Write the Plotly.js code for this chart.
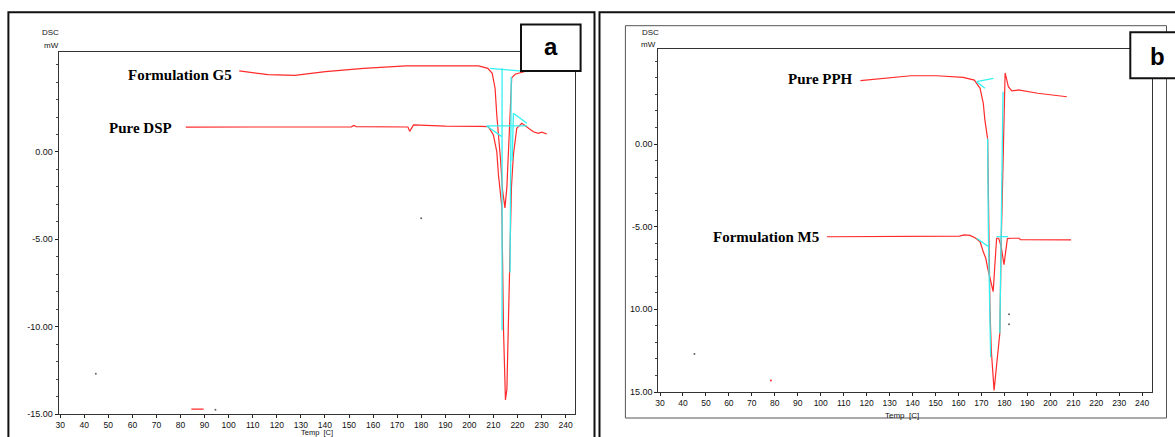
<!DOCTYPE html>
<html><head><meta charset="utf-8">
<script src="https://cdn.plot.ly/plotly-3.0.1.min.js"></script>
<style>html,body{margin:0;padding:0;background:#fff;}#chart{width:1175px;height:437px;}</style>
</head><body><div id="chart"></div>
<script>
// ---------- Panel a : Formulation G5 / Pure DSP ----------
const g5Temp = [104.4, 116.3, 127.5, 140.2, 156.1, 173.6, 203.8, 207.7, 209.5, 210.7, 211.4, 212.2, 213.0, 213.8, 214.8, 215.6, 216.3, 216.9, 217.6, 219.0, 221.8, 225.1, 226.1];
const g5Heat = [4.64, 4.43, 4.39, 4.60, 4.79, 4.93, 4.93, 4.79, 4.50, 3.65, 2.12, 0.90, -0.50, -2.20, -3.20, -2.00, 0.50, 2.60, 4.24, 4.45, 4.55, 4.70, 4.72];
const dspTemp = [82.2, 110.0, 140.0, 151.0, 152.0, 153.0, 174.5, 175.2, 176.8, 190.0, 204.5, 207.9, 210.0, 211.4, 212.1, 212.8, 213.5, 214.2, 215.0, 215.6, 216.4, 216.9, 217.5, 218.3, 219.7, 221.8, 223.9, 226.6, 228.7, 230.1, 232.2];
const dspHeat = [1.42, 1.42, 1.44, 1.44, 1.52, 1.45, 1.43, 1.18, 1.55, 1.48, 1.46, 1.45, 0.97, 0.02, -1.32, -2.46, -3.13, -10.2, -14.2, -13.6, -9.0, -5.0, -2.0, -0.17, 1.36, 1.64, 1.45, 1.16, 1.07, 1.13, 1.03];
const aCyanTemp = [208.6, 224.0, null, 213.6, 213.6, null, 217.4, 216.9, null, 207.2, 223.9, null, 218.3, 223.9, null, 218.3, 217.8, null, 207.2, 213.5];
const aCyanHeat = [4.79, 4.60, null, 4.79, -10.2, null, 4.30, -6.9, null, 1.49, 1.49, null, 2.22, 1.64, null, 2.22, -0.5, null, 1.49, 0.88];
const aDotTemp = [44.8, 180.0, 94.5];
const aDotHeat = [-12.7, -3.8, -14.75];
const aDashTemp = [84.5, 89.6];
const aDashHeat = [-14.72, -14.72];
const aYTickVals = [-15, -10, -5, 0];
const aYTickText = ["-15.00", "-10.00", "-5.00", "0.00"];

// ---------- Panel b : Pure PPH / Formulation M5 ----------
const pphTemp = [117.3, 129.5, 139.3, 150.6, 162.0, 166.9, 169.4, 170.8, 171.5, 172.7, 173.2, 173.7, 174.3, 175.5, 176.5, 177.2, 178.0, 178.6, 179.4, 180.0, 180.3, 181.0, 181.7, 183.2, 186.1, 194.5, 207.2];
const pphHeat = [3.83, 4.01, 4.13, 4.13, 4.03, 3.87, 3.37, 2.46, 1.45, 0.30, -5.0, -10.0, -12.5, -14.9, -13.5, -12.6, -11.45, -6.0, -0.5, 3.0, 4.3, 3.9, 3.47, 3.22, 3.27, 3.07, 2.86];
const m5Temp = [102.7, 130.0, 160.4, 162.5, 165.0, 167.2, 169.4, 170.8, 171.9, 172.7, 173.8, 175.1, 175.9, 176.6, 177.5, 178.6, 179.8, 180.7, 181.3, 183.0, 186.4, 187.0, 200.0, 209.0];
const m5Heat = [-5.61, -5.61, -5.57, -5.50, -5.53, -5.67, -5.91, -6.52, -6.92, -7.50, -8.20, -8.93, -7.20, -5.70, -5.70, -6.20, -7.30, -6.50, -5.72, -5.70, -5.70, -5.78, -5.78, -5.80];
const bCyanTemp = [167.9, 175.2, null, 167.9, 171.5, null, 172.7, 173.0, 174.0, null, 179.4, 178.0, null, 176.6, 181.6, null, 167.9, 173.0];
const bCyanHeat = [3.77, 3.97, null, 3.77, 3.37, null, 0.34, -5.2, -12.9, null, 3.16, -11.45, null, -5.6, -5.6, null, -5.7, -6.2];
const bDotTemp = [45.0, 182.0, 182.0];
const bDotHeat = [-12.7, -10.3, -10.9];
const bRedDotTemp = [78.3];
const bRedDotHeat = [-14.3];
const bYTickVals = [-15, -10, -5, 0];
const bYTickText = ["15.00", "10.00", "-5.00", "0.00"];

// ---------- shared ----------
const xTickVals = [30, 40, 50, 60, 70, 80, 90, 100, 110, 120, 130, 140, 150, 160, 170, 180, 190, 200, 210, 220, 230, 240];
const xTitle = "Temp  [C]";
const yUnit = "DSC";
const yUnit2 = "mW";
const labelsA = ["Formulation G5", "Pure DSP"];
const labelsB = ["Pure PPH", "Formulation M5"];

const W = 1175, H = 437;
const px = x => x / W;
const py = y => 1 - y / H;

const RED = '#ff2a2a', CYAN = '#33f0f0';
function line(x, y, xa, ya, color, w) {
  return {x: x, y: y, xaxis: xa, yaxis: ya, type: 'scatter', mode: 'lines',
          line: {color: color, width: w}, connectgaps: false, hoverinfo: 'skip'};
}
function dots(x, y, xa, ya, color) {
  return {x: x, y: y, xaxis: xa, yaxis: ya, type: 'scatter', mode: 'markers',
          marker: {color: color, size: 2}, hoverinfo: 'skip'};
}

const data = [
  line(g5Temp, g5Heat, 'x', 'y', RED, 1.2),
  line(dspTemp, dspHeat, 'x', 'y', RED, 1.2),
  line(aCyanTemp, aCyanHeat, 'x', 'y', CYAN, 1.3),
  dots(aDotTemp, aDotHeat, 'x', 'y', '#666'),
  line(aDashTemp, aDashHeat, 'x', 'y', RED, 1.2),
  line(pphTemp, pphHeat, 'x2', 'y2', RED, 1.2),
  line(m5Temp, m5Heat, 'x2', 'y2', RED, 1.2),
  line(bCyanTemp, bCyanHeat, 'x2', 'y2', CYAN, 1.3),
  dots(bDotTemp, bDotHeat, 'x2', 'y2', '#666'),
  dots(bRedDotTemp, bRedDotHeat, 'x2', 'y2', RED)
];

const tickFont = {family: 'Liberation Sans, Arial, sans-serif', size: 9, color: '#111'};
function xAxis(dom, rng, anchor) {
  return {domain: dom, range: rng, anchor: anchor, tickmode: 'array', tickvals: xTickVals,
          ticks: 'outside', ticklen: 3, tickcolor: '#222', tickfont: {family: tickFont.family, size: 8.5, color: '#111'},
          showline: true, mirror: true, linecolor: '#333', linewidth: 1,
          showgrid: false, zeroline: false, fixedrange: true};
}
function yAxis(dom, rng, anchor, vals, text) {
  return {domain: dom, range: rng, anchor: anchor, tickmode: 'array', tickvals: vals, ticktext: text,
          ticks: 'outside', ticklen: 3, tickcolor: '#222', tickfont: tickFont,
          minor: {tickmode: 'linear', tick0: 0, dtick: 1, ticks: 'outside', ticklen: 2, tickcolor: '#444'},
          showline: true, mirror: true, linecolor: '#333', linewidth: 1,
          showgrid: false, zeroline: false, fixedrange: true};
}

const serif = {family: 'Liberation Serif, Times New Roman, serif', size: 15, color: '#000'};
const small = {family: 'Liberation Sans, Arial, sans-serif', size: 8, color: '#111'};
function ann(text, x, y, font, xanchor) {
  return {text: text, x: px(x), y: py(y), xref: 'paper', yref: 'paper', showarrow: false,
          xanchor: xanchor || 'center', yanchor: 'middle', font: font};
}

const layout = {
  width: W, height: H, autosize: false,
  margin: {l: 0, r: 0, t: 0, b: 0},
  paper_bgcolor: '#fff', plot_bgcolor: '#fff', showlegend: false,
  xaxis: xAxis([px(58.5), px(575)], [29.3, 243.9], 'y'),
  yaxis: yAxis([py(414), py(51.7)], [-15, 5.74], 'x', aYTickVals, aYTickText),
  xaxis2: xAxis([px(658.3), px(1151.6)], [29.26, 244.1], 'y2'),
  yaxis2: yAxis([py(392), py(49.3)], [-15, 5.73], 'x2', bYTickVals, bYTickText),
  shapes: [
    {type: 'rect', xref: 'paper', yref: 'paper', x0: px(8.4), x1: px(594.5), y0: py(12.3), y1: py(460), line: {color: '#111', width: 2}},
    {type: 'rect', xref: 'paper', yref: 'paper', x0: px(599.5), x1: px(1200), y0: py(12.3), y1: py(460), line: {color: '#111', width: 2}},
    {type: 'rect', xref: 'paper', yref: 'paper', x0: px(625.4), x1: px(1166.5), y0: py(25.7), y1: py(418), line: {color: '#555', width: 1}},
    {type: 'rect', xref: 'paper', yref: 'paper', x0: px(521), x1: px(580.6), y0: py(24.5), y1: py(71), line: {color: '#111', width: 2}, fillcolor: '#fff'},
    {type: 'rect', xref: 'paper', yref: 'paper', x0: px(1130.3), x1: px(1190), y0: py(32.3), y1: py(78.3), line: {color: '#111', width: 2}, fillcolor: '#fff'}
  ],
  annotations: [
    ann('<b>a</b>', 551, 46, {family: 'Liberation Sans, Arial, sans-serif', size: 24, color: '#000'}),
    ann('<b>b</b>', 1157, 56, {family: 'Liberation Sans, Arial, sans-serif', size: 24, color: '#000'}),
    ann('<b>' + labelsA[0] + '</b>', 234, 75, serif, 'right'),
    ann('<b>' + labelsA[1] + '</b>', 174, 127.5, serif, 'right'),
    ann('<b>' + labelsB[0] + '</b>', 855, 79, serif, 'right'),
    ann('<b>' + labelsB[1] + '</b>', 821, 236.7, serif, 'right'),
    ann(yUnit, 50, 33, small), ann(yUnit2, 51, 45, small),
    ann(yUnit, 650, 33, small), ann(yUnit2, 648, 44, small),
    ann(xTitle, 317, 432.5, {family: small.family, size: 7.5, color: '#111'}),
    ann(xTitle, 902, 415, small)
  ]
};

Plotly.newPlot('chart', data, layout, {displayModeBar: false, staticPlot: true});
</script>
</body></html>
